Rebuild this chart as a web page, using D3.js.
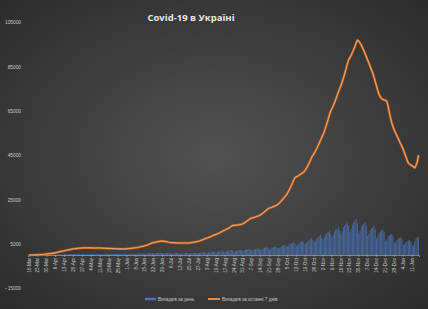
<!DOCTYPE html>
<html>
<head>
<meta charset="utf-8">
<script src="https://cdnjs.cloudflare.com/ajax/libs/d3/7.8.5/d3.min.js"></script>
<style>
  body { margin: 0; background: #333; }
  svg { display: block; }
</style>
</head>
<body>
<div class="graph"></div>
<script>
// daily cases, one row per week (Mon..Sun), from 16 Mar 2020
var dailyCases = [
  3, 2, 3, 10, 12, 4, 6,
  26, 34, 60, 43, 65, 93, 109,
  62, 101, 63, 138, 143, 192, 151,
  200, 210, 260, 280, 290, 300, 260,
  300, 360, 380, 410, 420, 460, 370,
  380, 400, 440, 500, 480, 510, 450,
  390, 420, 450, 480, 500, 510, 450,
  380, 400, 440, 500, 480, 520, 430,
  360, 380, 410, 470, 460, 490, 430,
  320, 350, 390, 430, 440, 460, 410,
  300, 330, 380, 420, 430, 470, 420,
  340, 380, 440, 490, 500, 560, 490,
  430, 470, 560, 610, 630, 700, 600,
  580, 650, 760, 830, 880, 960, 840,
  700, 760, 880, 950, 990, 1080, 940,
  640, 680, 780, 840, 880, 950, 830,
  600, 650, 760, 810, 850, 920, 810,
  590, 660, 750, 820, 860, 910, 810,
  650, 730, 850, 910, 950, 1020, 890,
  820, 900, 1060, 1140, 1190, 1280, 1110,
  1000, 1100, 1290, 1380, 1440, 1550, 1340,
  1200, 1330, 1560, 1670, 1740, 1880, 1620,
  1450, 1610, 1880, 2020, 2100, 2270, 1970,
  1500, 1670, 1950, 2100, 2180, 2360, 2040,
  1800, 2000, 2330, 2510, 2610, 2820, 2430,
  1940, 2150, 2520, 2710, 2810, 3040, 2630,
  2290, 2540, 2970, 3190, 3320, 3590, 3100,
  2460, 2730, 3200, 3440, 3570, 3860, 3340,
  2940, 3270, 3820, 4100, 4270, 4610, 3990,
  3810, 4240, 4950, 5320, 5530, 5980, 5170,
  4080, 4540, 5300, 5700, 5930, 6400, 5550,
  4900, 5450, 6360, 6840, 7110, 7690, 6650,
  5770, 6420, 7490, 8060, 8380, 9050, 7830,
  7080, 7870, 9190, 9880, 10270, 11100, 9610,
  8170, 9080, 10600, 11400, 11850, 12810, 11090,
  9580, 10650, 12440, 13380, 13910, 15030, 13010,
  10560, 11740, 13710, 14750, 15330, 16250, 14340,
  9690, 10770, 12580, 13530, 14070, 14800, 13160,
  8600, 9560, 11170, 12010, 12490, 13100, 11680,
  7620, 8470, 9890, 10640, 11060, 11500, 10360,
  6310, 7020, 8200, 8820, 9170, 9400, 8570,
  5280, 5870, 6850, 7370, 7670, 8000, 7180,
  4410, 4900, 5720, 6160, 6400, 6700, 5990,
  4100, 4500, 6200, 7400, 7900, 8100
];

// cases for the last 7 days
var weekCases = [
  5, 8, 12, 20, 28, 35, 40,
  65, 95, 150, 185, 240, 325, 430,
  470, 540, 545, 640, 720, 820, 850,
  990, 1100, 1300, 1440, 1590, 1700, 1800,
  1900, 2050, 2170, 2300, 2430, 2590, 2700,
  2780, 2820, 2880, 2970, 3030, 3080, 3160,
  3170, 3190, 3200, 3180, 3200, 3200, 3200,
  3190, 3170, 3160, 3180, 3160, 3170, 3150,
  3130, 3110, 3080, 3050, 3030, 3000, 3000,
  2960, 2930, 2910, 2870, 2850, 2820, 2800,
  2780, 2760, 2750, 2740, 2730, 2740, 2750,
  2790, 2840, 2900, 2970, 3040, 3130, 3200,
  3290, 3380, 3500, 3620, 3750, 3890, 4000,
  4150, 4330, 4530, 4750, 5000, 5260, 5500,
  5620, 5730, 5850, 5970, 6080, 6200, 6300,
  6240, 6160, 6060, 5950, 5840, 5710, 5600,
  5560, 5530, 5510, 5480, 5450, 5420, 5400,
  5390, 5400, 5390, 5400, 5410, 5400, 5400,
  5460, 5540, 5630, 5720, 5820, 5910, 6000,
  6170, 6340, 6550, 6780, 7010, 7270, 7500,
  7680, 7880, 8110, 8350, 8600, 8870, 9100,
  9300, 9530, 9800, 10090, 10390, 10690, 11000,
  11250, 11530, 11850, 12200, 12560, 12940, 13300,
  13350, 13410, 13480, 13560, 13640, 13730, 13800,
  14100, 14420, 14800, 15200, 15620, 16080, 16500,
  16640, 16790, 16970, 17160, 17370, 17600, 17800,
  18150, 18540, 18980, 19460, 19950, 20480, 21000,
  21170, 21360, 21590, 21830, 22090, 22340, 22600,
  23080, 23620, 24250, 24920, 25620, 26350, 27000,
  27870, 28840, 29970, 31200, 32480, 33860, 35000,
  35270, 35570, 35920, 36300, 36700, 37130, 37500,
  38320, 39230, 40300, 41450, 42640, 43930, 45000,
  45870, 46840, 47970, 49190, 50460, 51830, 53000,
  54310, 55770, 57470, 59300, 61190, 63250, 65000,
  66090, 67300, 68710, 70230, 71810, 73520, 75000,
  76410, 77980, 79820, 81800, 83860, 86080, 88000,
  88980, 90070, 91340, 92710, 94130, 95670, 97000,
  96500, 95800, 94800, 93600, 92300, 90900, 89500,
  88000, 86600, 85100, 83600, 82200, 80300, 78300,
  76300, 74200, 72500, 71300, 70600, 70200, 70000,
  69800, 69500, 67500, 64500, 61800, 59600, 57800,
  56300, 55000, 53800, 52600, 51300, 50100, 49000,
  47600, 46000, 44500, 42800, 41500, 41000, 40600,
  40200, 39800, 39300, 40500, 42000, 45100
];

var tickLabels = ["16-Mar", "23-Mar", "30-Mar", "6-Apr", "13-Apr", "20-Apr", "27-Apr",
  "4-May", "11-May", "18-May", "25-May", "1-Jun", "8-Jun", "15-Jun", "22-Jun", "29-Jun",
  "6-Jul", "13-Jul", "20-Jul", "27-Jul", "3-Aug", "10-Aug", "17-Aug", "24-Aug", "31-Aug",
  "7-Sep", "14-Sep", "21-Sep", "28-Sep", "5-Oct", "12-Oct", "19-Oct", "26-Oct",
  "2-Nov", "9-Nov", "16-Nov", "23-Nov", "30-Nov", "7-Dec", "14-Dec", "21-Dec", "28-Dec",
  "4-Jan", "11-Jan"];

var yTicks = [-15000, 5000, 25000, 45000, 65000, 85000, 105000];
var seriesNames = ["Випадків за день", "Випадків за останні 7 днів"];

var width = 428, height = 309;
var days = d3.range(dailyCases.length); // one category per day

var svg = d3.select(".graph").append("svg")
    .attr("width", width)
    .attr("height", height);

// dark radial background like the Excel style
var defs = svg.append("defs");
var grad = defs.append("radialGradient")
    .attr("id", "bg")
    .attr("cx", "50%").attr("cy", "50%").attr("r", "70%");
grad.append("stop").attr("offset", "0%").attr("stop-color", "#525252");
grad.append("stop").attr("offset", "100%").attr("stop-color", "#2c2c2c");

svg.append("rect")
    .attr("width", width)
    .attr("height", height)
    .attr("fill", "url(#bg)");

var x = d3.scaleBand()
    .domain(days)
    .range([28.4, 419])
    .paddingInner(0.3);

var y = d3.scaleLinear()
    .domain([-15000, 105000])
    .range([288.2, 22.4]);

var cx = function(i) { return x(i) + x.bandwidth() / 2; };

// title
svg.append("text")
    .attr("x", 191)
    .attr("y", 21)
    .attr("text-anchor", "middle")
    .attr("font-family", "Open Sans")
    .attr("font-weight", "bold")
    .attr("font-size", 9.5)
    .attr("fill", "#e8e8e8")
    .text("Covid-19 в Україні");

// y axis labels only
var yAxis = svg.append("g")
    .attr("transform", "translate(22,0)")
    .call(d3.axisLeft(y).tickValues(yTicks).tickSize(0).tickPadding(1).tickFormat(d3.format("d")));
yAxis.select(".domain").remove();
yAxis.selectAll("text")
    .attr("font-family", "Liberation Sans")
    .attr("font-size", 4.8)
    .attr("fill", "#c8c8c8");

// daily bars
svg.append("g").selectAll(".bar")
    .data(dailyCases)
    .enter().append("rect")
    .attr("class", "bar")
    .attr("x", function(d, i) { return x(i); })
    .attr("y", function(d) { return y(d); })
    .attr("width", x.bandwidth())
    .attr("height", function(d) { return y(0) - y(d); })
    .attr("fill", "#4d78c4")
    .attr("opacity", 0.78);

// x axis on zero line, a label every 7th day
var xAxis = svg.append("g")
    .attr("transform", "translate(0," + y(0) + ")")
    .call(d3.axisBottom(x)
      .tickValues(days.filter(function(i) { return i % 7 === 0 && i / 7 < tickLabels.length; }))
      .tickSize(2)
      .tickFormat(function(i) { return tickLabels[i / 7]; }));
xAxis.select(".domain").attr("stroke", "#bdbdbd").attr("stroke-width", 0.6);
xAxis.selectAll(".tick line").attr("stroke", "#bdbdbd").attr("stroke-width", 0.5);
xAxis.selectAll("text")
    .attr("font-family", "Liberation Sans")
    .attr("font-size", 4.6)
    .attr("fill", "#c8c8c8")
    .attr("transform", "rotate(-90)")
    .attr("text-anchor", "end")
    .attr("x", -3)
    .attr("y", 0)
    .attr("dy", "0.35em");

// 7 day line with a glow
var line = d3.line()
    .x(function(d, i) { return cx(i); })
    .y(function(d) { return y(d); });

svg.append("path")
    .datum(weekCases)
    .attr("d", line)
    .attr("fill", "none")
    .attr("stroke", "#b85a24")
    .attr("stroke-width", 2.4)
    .attr("stroke-linejoin", "round");
svg.append("path")
    .datum(weekCases)
    .attr("d", line)
    .attr("fill", "none")
    .attr("stroke", "#f4a060")
    .attr("stroke-width", 1.1)
    .attr("stroke-linejoin", "round");

// legend
var legend = svg.append("g").attr("transform", "translate(0,299)");
legend.append("rect").attr("x", 145).attr("y", -1.2).attr("width", 11).attr("height", 2.4).attr("fill", "#4a74c0");
legend.append("text").attr("x", 158).attr("y", 1.6).text(seriesNames[0]);
legend.append("rect").attr("x", 208).attr("y", -1).attr("width", 12).attr("height", 2).attr("fill", "#e88a4a");
legend.append("text").attr("x", 222).attr("y", 1.6).text(seriesNames[1]);
legend.selectAll("text")
    .attr("font-family", "Liberation Sans")
    .attr("font-size", 4.6)
    .attr("fill", "#c8c8c8");
</script>
</body>
</html>
